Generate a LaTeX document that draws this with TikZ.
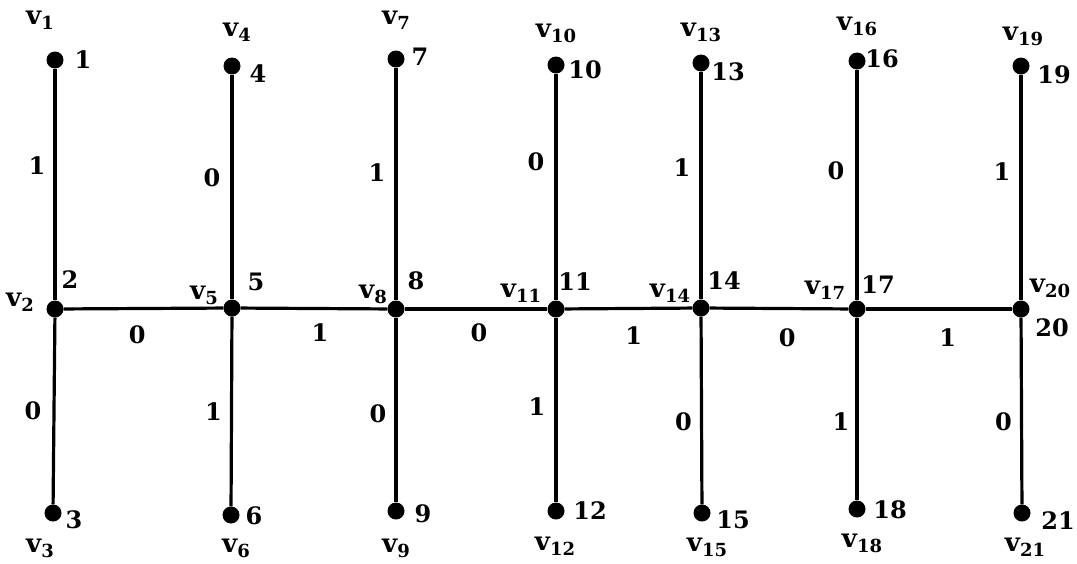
\documentclass[tikz,border=0pt]{standalone}
\usepackage{fontspec}
\setmainfont{DejaVu Serif}
\newcommand{\vsub}[1]{v\raisebox{-5pt}{\fontsize{18}{18}\selectfont\bfseries #1}}
\begin{document}
\begin{tikzpicture}[x=1pt,y=-1pt,
  vtx/.style={circle,fill=black,inner sep=0pt,minimum size=17pt},
  edge/.style={line width=3.2pt},
  lbl/.style={inner sep=0pt,font=\fontsize{24}{26}\selectfont\bfseries},
  vname/.style={inner sep=0pt,font=\fontsize{26}{28}\selectfont\bfseries}]
\useasboundingbox (0,0) rectangle (1077,563);
% vertices
\node[vtx] (v1) at (55,60) {};
\node[vtx] (v2) at (55,309) {};
\node[vtx] (v3) at (53,513) {};
\node[vtx] (v4) at (232,66) {};
\node[vtx] (v5) at (232,308) {};
\node[vtx] (v6) at (231,515) {};
\node[vtx] (v7) at (396,59) {};
\node[vtx] (v8) at (396,309) {};
\node[vtx] (v9) at (396,511) {};
\node[vtx] (v10) at (556,65) {};
\node[vtx] (v11) at (556,309) {};
\node[vtx] (v12) at (556,511) {};
\node[vtx] (v13) at (701,63) {};
\node[vtx] (v14) at (701,308) {};
\node[vtx] (v15) at (702,513) {};
\node[vtx] (v16) at (857,61) {};
\node[vtx] (v17) at (857,309) {};
\node[vtx] (v18) at (857,509) {};
\node[vtx] (v19) at (1021,66) {};
\node[vtx] (v20) at (1021,309) {};
\node[vtx] (v21) at (1022,513) {};
% edges
\draw[edge] (v1) -- (v2) node[lbl,pos=0.42,xshift=-18pt] (e1) {1};
\draw[edge] (v2) -- (v3) node[lbl,pos=0.5,xshift=-21pt] (e2) {0};
\draw[edge] (v4) -- (v5) node[lbl,pos=0.46,xshift=-20pt] (e3) {0};
\draw[edge] (v5) -- (v6) node[lbl,pos=0.5,xshift=-18pt] (e4) {1};
\draw[edge] (v7) -- (v8) node[lbl,pos=0.45,xshift=-19pt] (e5) {1};
\draw[edge] (v8) -- (v9) node[lbl,pos=0.52,xshift=-18pt] (e6) {0};
\draw[edge] (v10) -- (v11) node[lbl,pos=0.39,xshift=-20pt] (e7) {0};
\draw[edge] (v11) -- (v12) node[lbl,pos=0.48,xshift=-19pt] (e8) {1};
\draw[edge] (v13) -- (v14) node[lbl,pos=0.42,xshift=-19pt] (e9) {1};
\draw[edge] (v14) -- (v15) node[lbl,pos=0.56,xshift=-18pt] (e10) {0};
\draw[edge] (v16) -- (v17) node[lbl,pos=0.44,xshift=-21pt] (e11) {0};
\draw[edge] (v17) -- (v18) node[lbl,pos=0.57,xshift=-16pt] (e12) {1};
\draw[edge] (v19) -- (v20) node[lbl,pos=0.43,xshift=-19pt] (e13) {1};
\draw[edge] (v20) -- (v21) node[lbl,pos=0.56,xshift=-18pt] (e14) {0};
\draw[edge] (v2) -- (v5) node[lbl,pos=0.46,yshift=-26pt] (h1) {0};
\draw[edge] (v5) -- (v8) node[lbl,pos=0.54,yshift=-24pt] (h2) {1};
\draw[edge] (v8) -- (v11) node[lbl,pos=0.52,yshift=-24pt] (h3) {0};
\draw[edge] (v11) -- (v14) node[lbl,pos=0.54,yshift=-27pt] (h4) {1};
\draw[edge] (v14) -- (v17) node[lbl,pos=0.56,yshift=-29pt] (h5) {0};
\draw[edge] (v17) -- (v20) node[lbl,pos=0.56,yshift=-29pt] (h6) {1};
% vertex names
\node[vname] (n1) at (40,20) {\vsub{1}};
\node[vname] (n2) at (20,302) {\vsub{2}};
\node[vname] (n3) at (40,548) {\vsub{3}};
\node[vname] (n4) at (237,32) {\vsub{4}};
\node[vname] (n5) at (204,295) {\vsub{5}};
\node[vname] (n6) at (236,548) {\vsub{6}};
\node[vname] (n7) at (396,20) {\vsub{7}};
\node[vname] (n8) at (373,294) {\vsub{8}};
\node[vname] (n9) at (396,548) {\vsub{9}};
\node[vname] (n10) at (556,33) {\vsub{10}};
\node[vname] (n11) at (521,293) {\vsub{11}};
\node[vname] (n12) at (555,546) {\vsub{12}};
\node[vname] (n13) at (701,32) {\vsub{13}};
\node[vname] (n14) at (670,293) {\vsub{14}};
\node[vname] (n15) at (707,547) {\vsub{15}};
\node[vname] (n16) at (857,26) {\vsub{16}};
\node[vname] (n17) at (825,290) {\vsub{17}};
\node[vname] (n18) at (862,543) {\vsub{18}};
\node[vname] (n19) at (1023,36) {\vsub{19}};
\node[vname] (n20) at (1050,288) {\vsub{20}};
\node[vname] (n21) at (1025,547) {\vsub{21}};
% vertex numbers
\node[lbl] (m1) at (83,60) {1};
\node[lbl] (m2) at (70,280) {2};
\node[lbl] (m3) at (74,520) {3};
\node[lbl] (m4) at (258,74) {4};
\node[lbl] (m5) at (256,282) {5};
\node[lbl] (m6) at (254,516) {6};
\node[lbl] (m7) at (420,57) {7};
\node[lbl] (m8) at (416,281) {8};
\node[lbl] (m9) at (423,514) {9};
\node[lbl] (m10) at (585,70) {10};
\node[lbl] (m11) at (575,282) {11};
\node[lbl] (m12) at (590,511) {12};
\node[lbl] (m13) at (728,72) {13};
\node[lbl] (m14) at (724,281) {14};
\node[lbl] (m15) at (733,520) {15};
\node[lbl] (m16) at (882,59) {16};
\node[lbl] (m17) at (878,285) {17};
\node[lbl] (m18) at (890,510) {18};
\node[lbl] (m19) at (1054,75) {19};
\node[lbl] (m20) at (1052,328) {20};
\node[lbl] (m21) at (1058,521) {21};
\end{tikzpicture}
\end{document}
